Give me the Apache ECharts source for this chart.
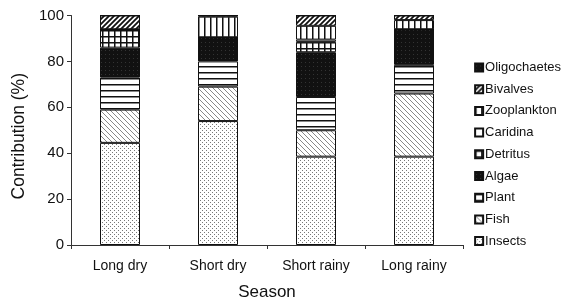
<!DOCTYPE html>
<html>
<head>
<meta charset="utf-8">
<script src="https://cdn.jsdelivr.net/npm/echarts@6/dist/echarts.min.js"></script>
<style>
  html, body { margin: 0; padding: 0; background: #fff; }
  #chart { width: 578px; height: 306px; }
</style>
</head>
<body>
<div id="chart"></div>
<script>
// seasons along the x axis
const seasons = ['Long dry', 'Short dry', 'Short rainy', 'Long rainy'];

// contribution (%) per food item, stacked bottom -> top
const insects      = [44.5, 54.0, 38.5, 38.5];
const fish         = [14.5, 15.0, 11.5, 27.5];
const plant        = [14.0, 11.0, 14.5, 12.5];
const algae        = [13.0, 10.5, 19.5, 15.5];
const detritus     = [8.0, 0, 4.5, 0];
const caridina     = [0, 0, 1.0, 0];
const zooplankton  = [0, 9.0, 6.0, 4.0];
const bivalves     = [6.0, 0.5, 4.5, 2.0];
const oligochaetes = [0, 0, 0, 0];

const yTicks = [0, 20, 40, 60, 80, 100];

// little canvas tiles used as fill patterns
function tile(w, h, draw) {
  const c = document.createElement('canvas');
  c.width = w; c.height = h;
  const ctx = c.getContext('2d');
  ctx.fillStyle = '#fff';
  ctx.fillRect(0, 0, w, h);
  draw(ctx);
  return { image: c, repeat: 'repeat' };
}

const patterns = {
  dots: tile(4, 4, ctx => {
    ctx.fillStyle = '#777';
    ctx.fillRect(0, 0, 1, 1);
    ctx.fillRect(2, 2, 1, 1);
  }),
  backDiag: tile(5, 5, ctx => {
    ctx.strokeStyle = '#888';
    ctx.lineWidth = 1;
    ctx.beginPath();
    ctx.moveTo(-1, -1); ctx.lineTo(6, 6);
    ctx.moveTo(-1, 4); ctx.lineTo(1, 6);
    ctx.moveTo(4, -1); ctx.lineTo(6, 1);
    ctx.stroke();
  }),
  hLines: tile(6, 6, ctx => {
    ctx.fillStyle = '#111';
    ctx.fillRect(0, 0, 6, 1.5);
  }),
  solid: tile(4, 4, ctx => {
    ctx.fillStyle = '#111';
    ctx.fillRect(0, 0, 4, 4);
    ctx.fillStyle = '#333';
    ctx.fillRect(1, 2, 1, 1);
  }),
  grid: tile(6, 6, ctx => {
    ctx.fillStyle = '#111';
    ctx.fillRect(0, 0, 6, 1.5);
    ctx.fillRect(0, 0, 1.5, 6);
  }),
  white: tile(4, 4, () => {}),
  vLines: tile(6, 6, ctx => {
    ctx.fillStyle = '#111';
    ctx.fillRect(0, 0, 1.5, 6);
  }),
  fwdDiag: tile(5, 5, ctx => {
    ctx.strokeStyle = '#111';
    ctx.lineWidth = 1.8;
    ctx.beginPath();
    ctx.moveTo(-1, 6); ctx.lineTo(6, -1);
    ctx.moveTo(-1, 1); ctx.lineTo(1, -1);
    ctx.moveTo(4, 6); ctx.lineTo(6, 4);
    ctx.stroke();
  })
};

const layers = [
  { name: 'Insects', data: insects, fill: patterns.dots },
  { name: 'Fish', data: fish, fill: patterns.backDiag },
  { name: 'Plant', data: plant, fill: patterns.hLines },
  { name: 'Algae', data: algae, fill: patterns.solid },
  { name: 'Detritus', data: detritus, fill: patterns.grid },
  { name: 'Caridina', data: caridina, fill: patterns.white },
  { name: 'Zooplankton', data: zooplankton, fill: patterns.vLines },
  { name: 'Bivalves', data: bivalves, fill: patterns.fwdDiag },
  { name: 'Oligochaetes', data: oligochaetes, fill: patterns.solid }
];

const chart = echarts.init(document.getElementById('chart'), null, { renderer: 'canvas' });

const font = 'Liberation Sans, Arial, sans-serif';

chart.setOption({
  backgroundColor: '#fff',
  animation: false,
  textStyle: { fontFamily: font },
  grid: { left: 71, right: 115, top: 15.5, bottom: 58 },
  legend: {
    orient: 'vertical',
    right: 12,
    top: 56,
    icon: 'rect',
    itemWidth: 8,
    itemHeight: 8,
    itemGap: 8.7,
    data: layers.map(l => l.name).reverse(),
    textStyle: { fontSize: 13, color: '#111', fontFamily: font, padding: [0, 0, 0, -3] }
  },
  xAxis: {
    type: 'category',
    data: seasons,
    name: 'Season',
    nameLocation: 'middle',
    nameGap: 39,
    nameTextStyle: { fontSize: 17, color: '#111', fontFamily: font },
    axisLine: { lineStyle: { color: '#333', width: 1 } },
    axisTick: { show: true, length: 4, lineStyle: { color: '#333' } },
    axisLabel: { fontSize: 14, color: '#111', margin: 14, fontFamily: font }
  },
  yAxis: {
    type: 'value',
    min: yTicks[0],
    max: yTicks[yTicks.length - 1],
    interval: 20,
    name: 'Contribution (%){pad|}',
    nameLocation: 'middle',
    nameGap: 42,
    nameTextStyle: {
      fontSize: 17.5, color: '#111', fontFamily: font,
      rich: { pad: { width: 12 } }
    },
    axisLine: { show: true, lineStyle: { color: '#333', width: 1 } },
    axisTick: { show: true, length: 4, lineStyle: { color: '#333' } },
    axisLabel: { fontSize: 15, color: '#111', margin: 7, fontFamily: font },
    splitLine: { show: false }
  },
  series: layers.map(l => ({
    name: l.name,
    type: 'bar',
    stack: 'total',
    barWidth: 40,
    data: l.data,
    itemStyle: { color: l.fill, borderColor: '#111', borderWidth: 1 },
    emphasis: { disabled: true }
  }))
});
</script>
</body>
</html>
